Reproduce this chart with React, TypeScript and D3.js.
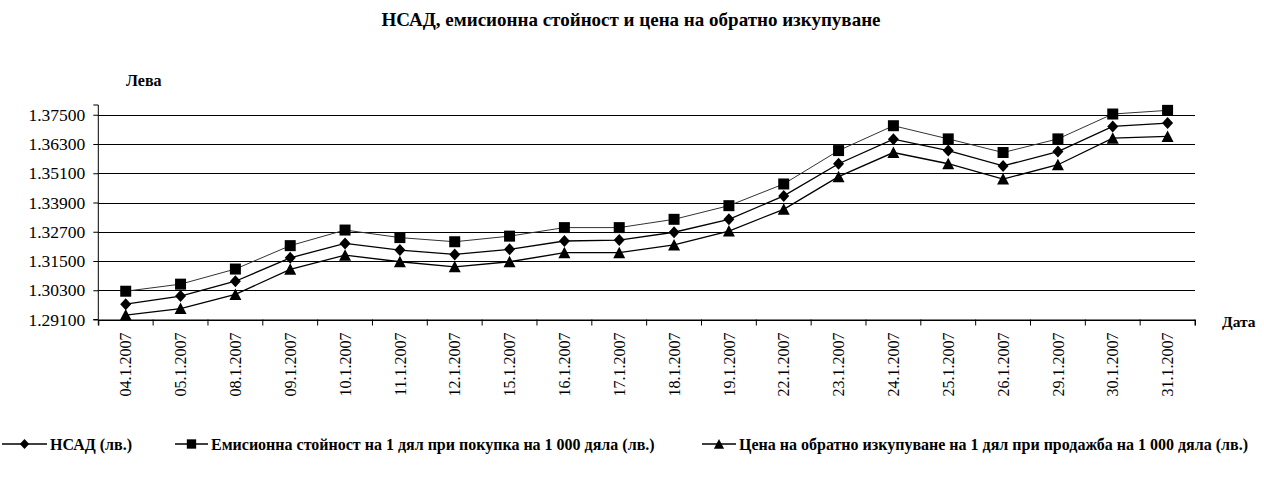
import React, { useEffect, useRef } from 'react';
import * as d3 from 'd3';

// dates on the category axis
const dates = [
  '04.1.2007', '05.1.2007', '08.1.2007', '09.1.2007', '10.1.2007',
  '11.1.2007', '12.1.2007', '15.1.2007', '16.1.2007', '17.1.2007',
  '18.1.2007', '19.1.2007', '22.1.2007', '23.1.2007', '24.1.2007',
  '25.1.2007', '26.1.2007', '29.1.2007', '30.1.2007', '31.1.2007',
];

// НСАД
const nav = [
  1.2973, 1.3006, 1.3067, 1.3163, 1.3222, 1.3195, 1.3177, 1.3198, 1.3232, 1.3236,
  1.3268, 1.3321, 1.3417, 1.3549, 1.3650, 1.3603, 1.3540, 1.3599, 1.3702, 1.3716,
];
// емисионна стойност
const issue = [
  1.3026, 1.3055, 1.3117, 1.3213, 1.3277, 1.3246, 1.3229, 1.3252, 1.3287, 1.3287,
  1.3321, 1.3377, 1.3466, 1.3603, 1.3705, 1.3651, 1.3595, 1.3651, 1.3753, 1.3768,
];
// цена на обратно изкупуване
const redeem = [
  1.2928, 1.2955, 1.3013, 1.3116, 1.3174, 1.3147, 1.3126, 1.3147, 1.3184, 1.3184,
  1.3216, 1.3273, 1.3362, 1.3496, 1.3595, 1.3549, 1.3486, 1.3545, 1.3654, 1.3661,
];

const yTicks = [1.291, 1.303, 1.315, 1.327, 1.339, 1.351, 1.363, 1.375];

const seriesNames = [
  'НСАД (лв.)',
  'Емисионна стойност на 1 дял при покупка на 1 000 дяла (лв.)',
  'Цена на обратно изкупуване на 1 дял при продажба на 1 000 дяла (лв.)',
];

const serif = '"Liberation Serif", "Times New Roman", serif';

function markerPath(kind: string) {
  if (kind === 'diamond') return 'M0,-6L5.5,0L0,6L-5.5,0Z';
  if (kind === 'square') return 'M-5.5,-5.5H5.5V5.5H-5.5Z';
  return 'M0,-6L6,5.5H-6Z';
}

export default function App() {
  const ref = useRef<SVGSVGElement>(null);

  useEffect(() => {
    const W = 1264, H = 483;
    const left = 98.3, right = 1195, top = 105, bottom = 319.5;
    const svg = d3.select(ref.current);
    svg.selectAll('*').remove();

    const x = d3.scaleBand().domain(dates).range([left, right]).padding(0);
    const y = d3.scaleLinear().domain([1.291, 1.379]).range([bottom, top]);

    svg.append('rect').attr('width', W).attr('height', H).attr('fill', '#fff');

    // title
    svg.append('text')
      .attr('x', 631).attr('y', 25.5)
      .attr('text-anchor', 'middle')
      .attr('font-family', serif).attr('font-weight', 'bold').attr('font-size', 19)
      .text('НСАД, емисионна стойност и цена на обратно изкупуване');

    svg.append('text')
      .attr('x', 126).attr('y', 86)
      .attr('font-family', serif).attr('font-weight', 'bold').attr('font-size', 16)
      .text('Лева');

    svg.append('text')
      .attr('x', 1222).attr('y', 326.5)
      .attr('font-family', serif).attr('font-weight', 'bold').attr('font-size', 15.5)
      .text('Дата');

    // gridlines
    svg.append('g').selectAll('line').data(yTicks).enter().append('line')
      .attr('x1', left).attr('x2', right)
      .attr('y1', d => Math.round(y(d)) + 0.5).attr('y2', d => Math.round(y(d)) + 0.5)
      .attr('stroke', '#000').attr('stroke-width', 1);

    // y axis
    const yAxis = d3.axisLeft(y).tickValues(yTicks).tickSize(5).tickFormat(d3.format('.5f'));
    const gy = svg.append('g').attr('transform', `translate(${left},0)`).call(yAxis);
    gy.select('.domain').attr('d', `M-5,${top}H0V${bottom}H-5`);
    gy.selectAll('text').attr('font-family', serif).attr('font-size', 17.5).attr('fill', '#000').attr('x', -13);

    // x axis
    const xAxis = d3.axisBottom(x).tickSize(6).tickSizeOuter(6);
    const gx = svg.append('g').attr('transform', `translate(0,${bottom})`).call(xAxis);
    gx.selectAll('.tick line').attr('transform', `translate(${-x.bandwidth() / 2},0)`);
    gx.append('line').attr('x1', right).attr('x2', right).attr('y1', 0).attr('y2', 6).attr('stroke', '#000');
    gx.selectAll('.tick text')
      .attr('font-family', serif).attr('font-size', 16).attr('fill', '#000')
      .attr('transform', 'rotate(-90)')
      .attr('x', -13).attr('y', 0).attr('dy', '0.35em')
      .attr('text-anchor', 'end');

    const series = [
      { values: nav, marker: 'diamond', color: '#000', width: 1.3 },
      { values: issue, marker: 'square', color: '#333', width: 1 },
      { values: redeem, marker: 'triangle', color: '#000', width: 1.3 },
    ];
    const cx = (i: number) => (x(dates[i]) as number) + x.bandwidth() / 2;
    const line = d3.line<number>().x((d, i) => cx(i)).y(d => y(d));

    series.forEach(s => {
      svg.append('path').attr('d', line(s.values))
        .attr('fill', 'none').attr('stroke', s.color).attr('stroke-width', s.width);
    });
    series.forEach(s => {
      svg.append('g').selectAll('path').data(s.values).enter().append('path')
        .attr('d', markerPath(s.marker))
        .attr('transform', (d, i) => `translate(${cx(i)},${y(d)})`)
        .attr('fill', '#000');
    });

    // legend
    const legendX = [{ l: 2, r: 47 }, { l: 175, r: 208 }, { l: 702, r: 736 }];
    const ly = 444;
    series.forEach((s, k) => {
      const g = svg.append('g');
      g.append('line').attr('x1', legendX[k].l).attr('x2', legendX[k].r)
        .attr('y1', ly).attr('y2', ly).attr('stroke', '#000').attr('stroke-width', 1.3);
      g.append('path').attr('d', markerPath(s.marker))
        .attr('transform', `translate(${(legendX[k].l + legendX[k].r) / 2},${ly}) scale(0.85)`)
        .attr('fill', '#000');
      g.append('text').attr('x', legendX[k].r + 3).attr('y', ly + 5.5)
        .attr('font-family', serif).attr('font-weight', 'bold').attr('font-size', 16)
        .text(seriesNames[k]);
    });
  }, []);

  return (
    <svg ref={ref} width={1264} height={483}
      style={{ position: 'absolute', left: 0, top: 0, display: 'block' }} />
  );
}
